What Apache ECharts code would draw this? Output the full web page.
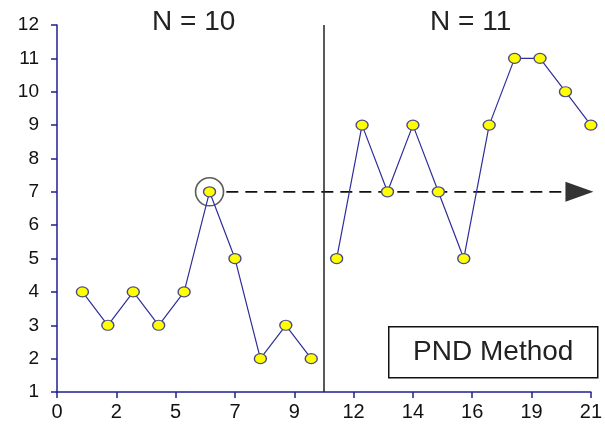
<!DOCTYPE html>
<html>
<head>
<meta charset="utf-8">
<script src="https://cdn.jsdelivr.net/npm/echarts@6/dist/echarts.min.js"></script>
<style>html,body{margin:0;padding:0;background:#fff;}#c{width:605px;height:425px;}</style>
</head>
<body>
<div id="c"></div>
<script>
// Data
var sessions = [1,2,3,4,5,6,7,8,9,10,11,12,13,14,15,16,17,18,19,20,21];
var phaseA = [4,3,4,3,4,7,5,2,3,2];
var phaseB = [5,9,7,9,7,5,9,11,11,10,9];
var phaseTitles = ['N = 10', 'N = 11'];
var phaseChange = 10.5;
var highestA = 7;
var highestAt = 6;
var boxLabel = 'PND Method';

var ptsA = phaseA.map(function(v,i){return [sessions[i], v];});
var ptsB = phaseB.map(function(v,i){return [sessions[phaseA.length + i], v];});

var chart = echarts.init(document.getElementById('c'));
var axisColor = '#1f1f8f';
var font = 'Liberation Sans, Arial, sans-serif';
var markerStyle = {color:'#ffff00', borderColor:'#4a4a88', borderWidth:1.3};
var lineStyle = {color:'#2e2e9a', width:1.2};

chart.setOption({
  animation:false,
  backgroundColor:'#fff',
  grid:{left:57, right:8, top:25, bottom:33, containLabel:false},
  xAxis:{
    type:'value', min:0, max:21, interval:21/9,
    axisLine:{show:true, onZero:false, lineStyle:{color:axisColor, width:1.5}},
    axisTick:{show:true, length:6, lineStyle:{color:axisColor, width:1.5}},
    splitLine:{show:false},
    axisLabel:{color:'#111', fontSize:20, fontFamily:font, margin:10,
      formatter:function(v){return String(Math.round(v));}}
  },
  yAxis:{
    type:'value', min:1, max:12, interval:1,
    axisLine:{show:true, onZero:false, lineStyle:{color:axisColor, width:1.5}},
    axisTick:{show:true, length:6, lineStyle:{color:axisColor, width:1.5}},
    splitLine:{show:false},
    axisLabel:{color:'#111', fontSize:19, fontFamily:font, margin:18, align:'right'}
  },
  graphic:[
    {type:'text', left:152, top:8, style:{text:phaseTitles[0], font:'28px '+font, fill:'#222'}},
    {type:'text', left:430, top:8, style:{text:phaseTitles[1], font:'28px '+font, fill:'#222'}},
    {type:'group', left:388, top:326, children:[
      {type:'rect', shape:{x:0,y:0,width:209,height:51}, style:{fill:'#fff', stroke:'#111', lineWidth:1.5}},
      {type:'text', x:104.5, y:25.5, style:{text:boxLabel, font:'28px '+font, fill:'#222', align:'center', verticalAlign:'middle'}}
    ]}
  ],
  series:[
    {type:'line', data:ptsA, symbol:'circle', symbolSize:[12,10], lineStyle:lineStyle, itemStyle:markerStyle, z:5,
      markLine:{silent:true, symbol:['none','none'], label:{show:false},
        lineStyle:{color:'#222', width:1.5, type:'solid'},
        data:[{xAxis:phaseChange}]}
    },
    {type:'line', data:ptsB, symbol:'circle', symbolSize:[12,10], lineStyle:lineStyle, itemStyle:markerStyle, z:5},
    {type:'line', data:[[highestAt + 0.66, highestA],[20.0, highestA]], symbol:'none',
      lineStyle:{color:'#111', width:1.8, type:[12,7]}, z:3},
    {type:'scatter', data:[[20.55, highestA]], symbol:'triangle', symbolRotate:-90, symbolSize:[20,28],
      itemStyle:{color:'#000'}, z:4},
    {type:'scatter', data:[[highestAt, highestA]], symbol:'circle', symbolSize:28,
      itemStyle:{color:'rgba(0,0,0,0)', borderColor:'#333', borderWidth:1.6}, z:4}
  ]
});
</script>
</body>
</html>
